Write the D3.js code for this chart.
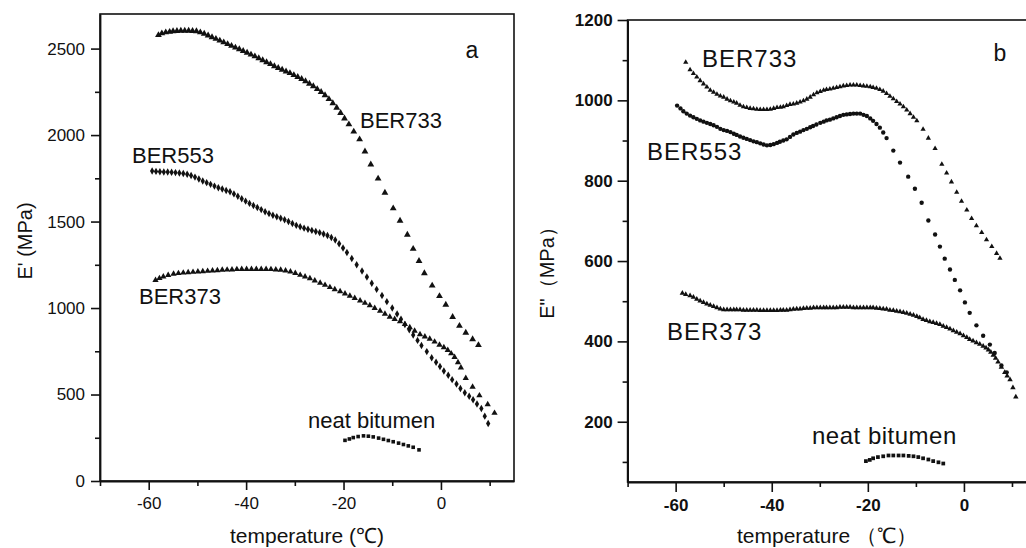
<!DOCTYPE html>
<html>
<head>
<meta charset="utf-8">
<script src="https://cdn.jsdelivr.net/npm/d3@7"></script>
<style>
  body { margin: 0; background: #fff; }
  svg { display: block; font-family: "Liberation Sans", Arial, sans-serif; }
</style>
</head>
<body>
<svg id="chart" width="1026" height="548"></svg>
<script>
// temperature ticks, shared by both panels
const tempMajor = [-60, -40, -20, 0];
const tempMinor = [-70, -50, -30, -10, 10];

// panel a: storage modulus E' (MPa)
const storageMajor = [0, 500, 1000, 1500, 2000, 2500];
const storageMinor = [250, 750, 1250, 1750, 2250];

const storageBER733 = [
  [-58.0, 2578], [-57.3, 2588], [-56.5, 2594], [-55.7, 2597], [-55.0, 2600], [-54.2, 2602],
  [-53.4, 2603], [-52.6, 2603], [-51.8, 2603], [-51.0, 2602], [-50.2, 2600], [-49.4, 2594],
  [-48.6, 2586], [-47.8, 2576], [-47.0, 2566], [-46.2, 2556], [-45.4, 2546], [-44.6, 2536],
  [-43.8, 2526], [-43.0, 2516], [-42.2, 2506], [-41.4, 2496], [-40.6, 2486], [-39.8, 2476],
  [-39.0, 2465], [-38.2, 2455], [-37.4, 2444], [-36.6, 2433], [-35.8, 2421], [-35.0, 2410],
  [-34.2, 2398], [-33.4, 2388], [-32.6, 2378], [-31.8, 2368], [-31.0, 2358], [-30.2, 2347],
  [-29.4, 2336], [-28.6, 2324], [-27.8, 2311], [-27.0, 2297], [-26.2, 2282], [-25.4, 2266],
  [-24.6, 2249], [-23.8, 2230], [-23.0, 2208], [-22.2, 2184], [-21.4, 2158], [-20.6, 2128],
  [-19.8, 2096], [-18.9, 2062], [-17.9, 2020], [-16.7, 1975], [-15.6, 1905], [-14.4, 1830],
  [-12.9, 1748], [-11.5, 1667], [-9.8, 1576], [-8.4, 1505], [-6.9, 1424], [-5.7, 1342],
  [-4.5, 1272], [-3.4, 1201], [-1.8, 1130], [-0.3, 1069], [1.0, 1019], [2.4, 948],
  [3.8, 897], [5.1, 857], [6.5, 820], [7.7, 786]
];

const storageBER553 = [
  [-59.3, 1792], [-58.5, 1790], [-57.7, 1788], [-56.9, 1787], [-56.1, 1786], [-55.3, 1785],
  [-54.5, 1783], [-53.7, 1781], [-52.9, 1778], [-52.1, 1773], [-51.3, 1766], [-50.5, 1757],
  [-49.7, 1746], [-48.9, 1735], [-48.1, 1725], [-47.3, 1715], [-46.5, 1705], [-45.7, 1696],
  [-44.9, 1688], [-44.1, 1680], [-43.3, 1672], [-42.5, 1660], [-41.7, 1646], [-40.9, 1632],
  [-40.1, 1618], [-39.3, 1605], [-38.5, 1593], [-37.7, 1581], [-36.9, 1569], [-36.1, 1557],
  [-35.3, 1546], [-34.5, 1537], [-33.7, 1528], [-32.9, 1519], [-32.1, 1510], [-31.3, 1500],
  [-30.5, 1489], [-29.7, 1478], [-28.9, 1470], [-28.1, 1462], [-27.3, 1455], [-26.5, 1449],
  [-25.7, 1443], [-24.9, 1436], [-24.1, 1428], [-23.3, 1419], [-22.5, 1408], [-21.7, 1393],
  [-20.9, 1372], [-20.1, 1347], [-19.3, 1321], [-18.3, 1286], [-17.3, 1250], [-16.2, 1214],
  [-15.2, 1179], [-14.2, 1143], [-13.2, 1108], [-12.1, 1072], [-11.1, 1037], [-10.0, 1000],
  [-9.0, 966], [-8.2, 935], [-7.4, 905], [-6.5, 874], [-5.7, 844], [-4.8, 813],
  [-4.0, 783], [-2.9, 748], [-1.9, 713], [-1.0, 687], [-0.2, 662], [0.6, 636],
  [1.5, 611], [2.3, 586], [3.2, 561], [4.0, 535], [4.9, 510], [5.8, 490],
  [6.6, 470], [7.4, 445], [8.3, 419], [9.0, 375], [9.7, 332]
];

const storageBER373 = [
  [-58.6, 1161], [-57.8, 1172], [-57.0, 1181], [-56.0, 1190], [-54.9, 1197], [-53.9, 1201],
  [-52.9, 1204], [-51.9, 1206], [-50.9, 1208], [-49.9, 1210], [-48.9, 1212], [-47.9, 1214],
  [-46.9, 1216], [-45.9, 1218], [-44.9, 1220], [-43.9, 1221], [-42.9, 1222], [-41.9, 1224],
  [-40.9, 1225], [-39.9, 1225], [-38.9, 1225], [-37.9, 1225], [-36.9, 1225], [-35.9, 1225],
  [-34.9, 1224], [-33.9, 1222], [-32.9, 1220], [-31.9, 1216], [-30.9, 1210], [-29.9, 1202],
  [-28.9, 1191], [-27.9, 1181], [-26.9, 1171], [-25.9, 1158], [-24.8, 1145], [-23.8, 1133],
  [-22.8, 1120], [-21.8, 1108], [-20.7, 1096], [-19.7, 1083], [-18.7, 1070], [-17.7, 1057],
  [-16.6, 1043], [-15.6, 1029], [-14.6, 1015], [-13.6, 999], [-12.5, 983], [-11.5, 966],
  [-10.5, 949], [-9.5, 936], [-8.4, 923], [-7.4, 906], [-6.4, 888], [-5.4, 868],
  [-4.3, 848], [-3.3, 835], [-2.3, 822], [-1.3, 805], [-0.3, 787], [0.6, 772],
  [1.4, 757], [2.1, 737], [2.8, 716], [3.5, 686], [4.1, 655], [5.1, 595],
  [6.5, 544], [7.9, 494], [9.6, 443], [11.0, 393]
];

const storageNeat = [
  [-19.7, 235], [-18.8, 243], [-18.0, 251], [-17.0, 257], [-15.9, 261], [-14.9, 259],
  [-13.9, 255], [-12.8, 248], [-11.8, 241], [-10.8, 234], [-9.8, 227], [-8.7, 219],
  [-7.7, 211], [-6.7, 203], [-5.7, 195], [-4.5, 180]
];

// panel b: loss modulus E'' (MPa)
const lossMajor = [200, 400, 600, 800, 1000, 1200];
const lossMinor = [100, 300, 500, 700, 900, 1100];

const lossBER733 = [
  [-57.9, 1095], [-57.0, 1076], [-56.3, 1067], [-55.6, 1058], [-54.9, 1049], [-54.2, 1041],
  [-53.5, 1033], [-52.8, 1025], [-52.1, 1020], [-51.4, 1015], [-50.7, 1011], [-50.0, 1008],
  [-49.3, 1003], [-48.6, 999], [-47.9, 996], [-47.3, 993], [-46.6, 988], [-45.9, 984],
  [-45.2, 982], [-44.5, 980], [-43.8, 979], [-43.1, 978], [-42.4, 977], [-41.7, 977],
  [-41.0, 977], [-40.3, 978], [-39.6, 980], [-38.9, 982], [-38.2, 983], [-37.6, 984],
  [-36.9, 987], [-36.2, 990], [-35.5, 991], [-34.8, 993], [-34.1, 996], [-33.4, 999],
  [-32.7, 1003], [-32.0, 1008], [-31.3, 1014], [-30.6, 1019], [-29.9, 1022], [-29.2, 1025],
  [-28.6, 1027], [-27.9, 1028], [-27.2, 1030], [-26.5, 1032], [-25.8, 1034], [-25.1, 1036],
  [-24.4, 1037], [-23.7, 1038], [-23.0, 1038], [-22.3, 1038], [-21.6, 1037], [-20.9, 1036],
  [-20.2, 1035], [-19.5, 1034], [-18.9, 1032], [-18.2, 1030], [-17.5, 1027], [-16.8, 1023],
  [-16.1, 1017], [-15.4, 1010], [-14.7, 1004], [-14.0, 997], [-13.3, 991], [-12.6, 984],
  [-11.9, 976], [-11.2, 967], [-10.5, 958], [-9.8, 949], [-8.5, 928], [-7.4, 906],
  [-6.0, 880], [-4.6, 841], [-3.6, 819], [-2.6, 797], [-1.5, 771], [-0.5, 749],
  [0.6, 727], [1.6, 706], [2.6, 688], [3.7, 671], [4.7, 653], [5.8, 636],
  [6.8, 619], [7.5, 607]
];

const lossBER553 = [
  [-59.7, 987], [-59.0, 980], [-58.4, 973], [-57.7, 967], [-57.0, 962], [-56.3, 958],
  [-55.6, 954], [-54.9, 950], [-54.2, 947], [-53.5, 944], [-52.8, 941], [-52.1, 938],
  [-51.4, 934], [-50.7, 929], [-50.0, 926], [-49.3, 924], [-48.6, 921], [-47.9, 917],
  [-47.3, 914], [-46.6, 910], [-45.9, 907], [-45.2, 904], [-44.5, 901], [-43.8, 898],
  [-43.1, 896], [-42.4, 893], [-41.7, 890], [-41.0, 888], [-40.3, 889], [-39.6, 891],
  [-38.9, 894], [-38.3, 897], [-37.6, 900], [-36.9, 903], [-36.2, 909], [-35.5, 915],
  [-34.8, 919], [-34.1, 922], [-33.4, 926], [-32.7, 929], [-32.0, 933], [-31.4, 936],
  [-30.7, 940], [-29.9, 944], [-29.2, 947], [-28.6, 950], [-27.9, 952], [-27.2, 955],
  [-26.5, 958], [-25.8, 961], [-25.1, 964], [-24.4, 965], [-23.7, 966], [-23.0, 967],
  [-22.3, 967], [-21.6, 967], [-20.9, 964], [-20.2, 961], [-19.5, 955], [-18.9, 949],
  [-18.2, 941], [-17.5, 932], [-16.8, 920], [-16.1, 906], [-14.7, 875], [-13.3, 845],
  [-11.6, 810], [-10.2, 780], [-8.8, 745], [-7.4, 701], [-6.0, 666], [-5.0, 636],
  [-4.0, 606], [-2.9, 579], [-1.9, 553], [-0.8, 527], [0.2, 497], [1.2, 471],
  [2.6, 440], [4.0, 414], [5.4, 392], [6.4, 371], [7.8, 340], [8.9, 323]
];

const lossBER373 = [
  [-58.6, 520], [-57.9, 517], [-57.0, 514], [-56.3, 510], [-55.6, 505], [-54.9, 501],
  [-54.2, 497], [-53.5, 493], [-52.8, 490], [-52.1, 487], [-51.4, 484], [-50.7, 481],
  [-50.0, 479], [-49.3, 479], [-48.6, 479], [-47.9, 479], [-47.3, 479], [-46.6, 479],
  [-45.9, 478], [-45.2, 478], [-44.5, 478], [-43.8, 478], [-43.1, 478], [-42.4, 477],
  [-41.7, 477], [-41.0, 477], [-40.3, 477], [-39.6, 477], [-38.9, 477], [-38.2, 478],
  [-37.6, 478], [-36.9, 478], [-36.2, 479], [-35.5, 480], [-34.8, 481], [-34.1, 481],
  [-33.4, 482], [-32.7, 483], [-32.0, 483], [-31.3, 484], [-30.6, 484], [-29.9, 484],
  [-29.2, 484], [-28.6, 484], [-27.9, 484], [-27.2, 484], [-26.5, 484], [-25.8, 485],
  [-25.1, 485], [-24.4, 485], [-23.7, 485], [-23.0, 484], [-22.3, 484], [-21.6, 484],
  [-20.9, 484], [-20.2, 484], [-19.5, 484], [-18.9, 484], [-18.2, 483], [-17.5, 482],
  [-16.8, 481], [-16.1, 480], [-15.4, 478], [-14.7, 477], [-14.0, 475], [-13.3, 474],
  [-12.6, 472], [-11.9, 470], [-11.2, 468], [-10.5, 465], [-9.8, 462], [-9.2, 459],
  [-8.5, 455], [-7.8, 452], [-7.1, 449], [-6.4, 447], [-5.7, 445], [-5.0, 442],
  [-4.3, 438], [-3.6, 435], [-2.9, 431], [-2.2, 427], [-1.5, 423], [-0.8, 419],
  [-0.1, 414], [0.6, 410], [1.2, 405], [1.9, 401], [2.6, 397], [3.3, 393],
  [4.0, 388], [4.6, 384], [5.1, 379], [5.6, 373], [6.1, 366], [6.6, 358],
  [7.1, 349], [7.8, 336], [8.5, 323], [9.0, 314], [9.6, 305], [10.2, 285], [10.8, 262]
];

const lossNeat = [
  [-20.4, 102], [-19.6, 105], [-18.9, 109], [-17.9, 112], [-16.8, 114], [-15.7, 116],
  [-14.7, 116], [-13.6, 116], [-12.6, 116], [-11.5, 115], [-10.5, 114], [-9.5, 112],
  [-8.5, 109], [-7.4, 106], [-6.4, 102], [-5.3, 99], [-4.3, 96]
];

const svg = d3.select("#chart");
const ink = "#111";
// plain hyphen minus and no thousands separator, like the original figure
const plainNumber = (d) => String(d);

const drawPanel = (panel) => {
  const {
    left, right, top, bottom, yDomain, yMajor, yMinor,
    series, labels, letter, yTitle, xTitle, tickWeight, tickFont, tickSize, tickPad,
  } = panel;

  const x = d3.scaleLinear().domain([-70, 15]).range([left, right]);
  const y = d3.scaleLinear().domain(yDomain).range([bottom, top]);
  const g = svg.append("g");

  // plot frame (top and right edges)
  g.append("rect")
    .attr("x", left).attr("y", top)
    .attr("width", right - left).attr("height", bottom - top)
    .attr("fill", "none").attr("stroke", ink).attr("stroke-width", 1.6);

  // minor ticks first, no labels
  g.append("g")
    .attr("transform", `translate(0,${bottom})`)
    .call(d3.axisBottom(x).tickValues(tempMinor).tickSize(5).tickFormat(""))
    .call((a) => a.select(".domain").remove());
  g.append("g")
    .attr("transform", `translate(${left},0)`)
    .call(d3.axisLeft(y).tickValues(yMinor).tickSize(5).tickFormat(""))
    .call((a) => a.select(".domain").remove());

  const xAxis = g.append("g")
    .attr("transform", `translate(0,${bottom})`)
    .call(d3.axisBottom(x).tickValues(tempMajor).tickFormat(plainNumber)
      .tickSize(tickSize).tickPadding(7).tickSizeOuter(0));
  const yAxis = g.append("g")
    .attr("transform", `translate(${left},0)`)
    .call(d3.axisLeft(y).tickValues(yMajor).tickFormat(plainNumber)
      .tickSize(tickSize).tickPadding(tickPad).tickSizeOuter(0));

  [xAxis, yAxis].forEach((a) => {
    a.attr("font-size", tickFont)
      .attr("font-family", '"Liberation Sans", Arial, sans-serif')
      .attr("font-weight", tickWeight);
    a.select(".domain").attr("stroke", ink).attr("stroke-width", 1.8);
    a.selectAll("text").attr("fill", ink);
  });
  g.selectAll(".tick line").attr("stroke", ink).attr("stroke-width", 1.6);

  // data markers
  series.forEach((s) => {
    const symbol = d3.symbol().type(s.shape).size(s.size);
    g.append("g")
      .selectAll("path")
      .data(s.data)
      .join("path")
      .attr("d", symbol)
      .attr("transform", (d) => `translate(${x(d[0])},${y(d[1])})`)
      .attr("fill", ink);
  });

  // curve annotations
  labels.forEach((l) => {
    g.append("text")
      .attr("x", l.x).attr("y", l.y)
      .attr("fill", ink)
      .style("font-size", `${l.size}px`)
      .style("letter-spacing", `${l.spacing || 0}px`)
      .text(l.text);
  });

  g.append("text")
    .attr("x", letter.x).attr("y", letter.y)
    .attr("text-anchor", "middle")
    .attr("fill", ink)
    .style("font-size", "23px")
    .text(letter.text);

  g.append("text")
    .attr("transform", `translate(${yTitle.x},${yTitle.y}) rotate(-90)`)
    .attr("text-anchor", "middle")
    .attr("fill", ink)
    .style("font-size", "20px")
    .text(yTitle.text);

  g.append("text")
    .attr("x", xTitle.x).attr("y", xTitle.y)
    .attr("text-anchor", "middle")
    .attr("fill", ink)
    .style("font-size", "21px")
    .text(xTitle.text);
};

drawPanel({
  left: 100, right: 514, top: 14, bottom: 481,
  yDomain: [0, 2700], yMajor: storageMajor, yMinor: storageMinor,
  tickWeight: "normal", tickFont: 17, tickSize: 9, tickPad: 6,
  series: [
    { data: storageBER733, shape: d3.symbolTriangle, size: 20 },
    { data: storageBER553, shape: d3.symbolDiamond, size: 16 },
    { data: storageBER373, shape: d3.symbolTriangle, size: 17 },
    { data: storageNeat, shape: d3.symbolSquare, size: 13 },
  ],
  labels: [
    { text: "BER733", x: 360, y: 128, size: 22 },
    { text: "BER553", x: 132, y: 163, size: 22 },
    { text: "BER373", x: 139, y: 304, size: 22 },
    { text: "neat bitumen", x: 308, y: 428, size: 22 },
  ],
  letter: { text: "a", x: 472, y: 58 },
  yTitle: { text: "E' (MPa)", x: 32, y: 241 },
  xTitle: { text: "temperature (℃)", x: 307, y: 543 },
});

drawPanel({
  left: 627.6, right: 1036, top: 20, bottom: 482,
  yDomain: [50, 1200], yMajor: lossMajor, yMinor: lossMinor,
  tickWeight: "bold", tickFont: 17, tickSize: 10, tickPad: 5,
  series: [
    { data: lossBER733, shape: d3.symbolTriangle, size: 12 },
    { data: lossBER553, shape: d3.symbolCircle, size: 15 },
    { data: lossBER373, shape: d3.symbolTriangle, size: 13 },
    { data: lossNeat, shape: d3.symbolSquare, size: 14 },
  ],
  labels: [
    { text: "BER733", x: 702, y: 67, size: 24, spacing: 1 },
    { text: "BER553", x: 647, y: 160, size: 24, spacing: 1 },
    { text: "BER373", x: 667, y: 340, size: 24, spacing: 1 },
    { text: "neat bitumen", x: 812, y: 444, size: 24, spacing: 0.5 },
  ],
  letter: { text: "b", x: 1000, y: 61 },
  yTitle: { text: "E\"（MPa）", x: 554, y: 268 },
  xTitle: { text: "temperature （℃）", x: 827, y: 543 },
});
</script>
</body>
</html>
